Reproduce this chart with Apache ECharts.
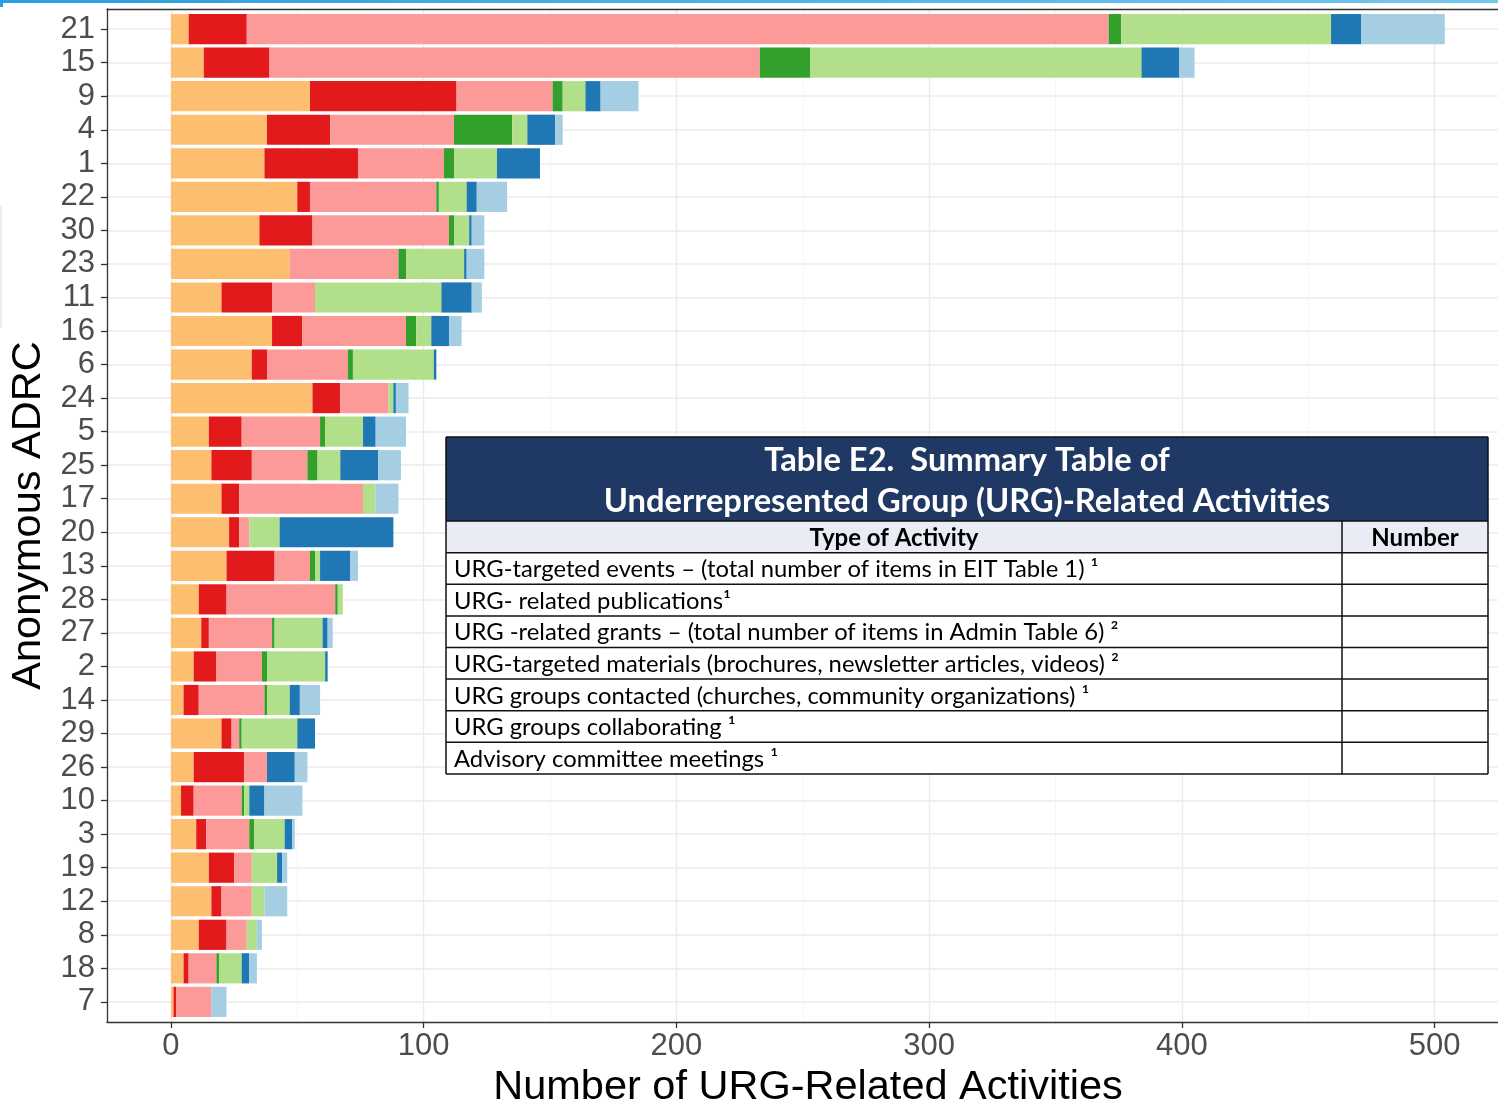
<!DOCTYPE html>
<html>
<head>
<meta charset="utf-8">
<script src="https://cdn.jsdelivr.net/npm/echarts@6/dist/echarts.min.js"></script>
<style>
html,body{margin:0;padding:0;background:#fff;overflow:hidden;width:1498px;height:1105px;}
#chart{width:1530px;height:1105px;}
</style>
</head>
<body>
<div id="chart"></div>
<script>
// ---- data ----
const categories = ['21','15','9','4','1','22','30','23','11','16','6','24','5','25','17','20','13','28','27','2','14','29','26','10','3','19','12','8','18','7'];
const activityTypes = [
  'URG-targeted events \u2013 (total number of items in EIT Table 1) \u00b9',
  'URG- related publications\u00b9',
  'URG -related grants \u2013 (total number of items in Admin Table 6) \u00b2',
  'URG-targeted materials (brochures, newsletter articles, videos) \u00b2',
  'URG groups contacted (churches, community organizations) \u00b9',
  'URG groups collaborating \u00b9',
  'Advisory committee meetings \u00b9'
];
const events        = [7,13,55,38,37,50,35,47,20,40,32,56,15,16,20,23,22,11,12,9,5,20,9,4,10,15,16,11,5,1];
const publications  = [23,26,58,25,37,5,21,0,20,12,6,11,13,16,7,4,19,11,3,9,6,4,20,5,4,10,4,11,2,1];
const grants        = [341,194,38,49,34,50,54,43,17,41,32,19,31,22,49,4,14,43,25,18,26,3,9,19,17,7,12,8,11,14];
const materials     = [5,20,4,23,4,1,2,3,0,4,2,0,2,4,0,0,2,1,1,2,1,1,0,1,2,0,0,0,1,0];
const contacted     = [83,131,9,6,17,11,6,23,50,6,32,2,15,9,5,12,2,2,19,23,9,22,0,2,12,10,5,4,9,0];
const collaborating = [12,15,6,11,17,4,1,1,12,7,1,1,5,15,0,45,12,0,2,1,4,7,11,6,3,2,0,0,3,0];
const advisory      = [33,6,15,3,0,12,5,7,4,5,0,5,12,9,9,0,3,0,2,0,8,0,5,15,1,2,9,2,3,6];
const majorTicks = [0,100,200,300,400,500];
const minorTicks = [50,150,250,350,450];
const xTitle = 'Number of URG-Related Activities';
const yTitle = 'Anonymous ADRC';
const tableTitle = ['Table E2.  Summary Table of', 'Underrepresented Group (URG)-Related Activities'];
const tableHeader = ['Type of Activity', 'Number'];

const seriesValues = [events, publications, grants, materials, contacted, collaborating, advisory];
const colors = ['#FDBF6F','#E31A1C','#FB9A99','#33A02C','#B2DF8A','#1F78B4','#A6CEE3'];

// ---- layout ----
const X_MIN = -25.3, X_MAX = 529.4;
const PLOT_L = 107, PLOT_T = 9, PLOT_W = 1402, PLOT_H = 1013;
const unit = PLOT_H / (categories.length + 0.2);
const idx = categories.map((c, i) => i);
const FONT = '"Liberation Sans", Arial, sans-serif';
const TFONT = 'Lato, "Open Sans", sans-serif';

const chart = echarts.init(document.getElementById('chart'), null, {renderer: 'canvas', width: 1530, height: 1105});

const series = seriesValues.map((vals, k) => ({
  name: activityTypes[k],
  type: 'bar',
  stack: 'total',
  xAxisIndex: 3,
  yAxisIndex: 1,
  barWidth: '90%',
  itemStyle: {color: colors[k]},
  emphasis: {disabled: true},
  data: vals
}));

// table graphics
const TL = 446, TR = 1488, TT = 437, HDR = 521, SUB = 552.7, ROWH = 31.6, DIV = 1342;
const TB = SUB + ROWH * activityTypes.length;
const g = [];
g.push({type:'rect', shape:{x:0,y:0,width:1530,height:3}, style:{fill:new echarts.graphic.LinearGradient(0,0,1,0,[{offset:0,color:'#2A9EDF'},{offset:1,color:'#74C8EE'}])}, z:100});
g.push({type:'rect', shape:{x:0,y:0,width:3,height:7}, style:{fill:'#2A9EDF'}, z:100});
g.push({type:'rect', shape:{x:0,y:205,width:2,height:123}, style:{fill:'#EEEEF2'}, z:100});
g.push({type:'rect', shape:{x:TL,y:TT,width:TR-TL,height:HDR-TT}, style:{fill:'#203864'}, z:100});
g.push({type:'rect', shape:{x:TL,y:HDR,width:TR-TL,height:SUB-HDR}, style:{fill:'#E9EBF5'}, z:100});
g.push({type:'rect', shape:{x:TL,y:SUB,width:TR-TL,height:TB-SUB}, style:{fill:'#FFFFFF'}, z:100});
const lineStyle = {stroke:'#111', lineWidth:1.5};
g.push({type:'line', shape:{x1:TL,y1:HDR,x2:TR,y2:HDR}, style:lineStyle, z:101});
for (let k = 0; k <= activityTypes.length; k++) {
  const y = SUB + ROWH * k;
  g.push({type:'line', shape:{x1:TL,y1:y,x2:TR,y2:y}, style:lineStyle, z:101});
}
g.push({type:'line', shape:{x1:TL,y1:TT,x2:TL,y2:TB}, style:lineStyle, z:101});
g.push({type:'line', shape:{x1:TR,y1:TT,x2:TR,y2:TB}, style:lineStyle, z:101});
g.push({type:'line', shape:{x1:TL,y1:TT,x2:TR,y2:TT}, style:lineStyle, z:101});
g.push({type:'line', shape:{x1:DIV,y1:HDR,x2:DIV,y2:TB}, style:lineStyle, z:101});
const cx = (TL + TR) / 2;
g.push({type:'text', style:{text:tableTitle[0], x:cx, y:460, align:'center', verticalAlign:'middle', fill:'#FFFFFF', font:'bold 32.7px ' + TFONT}, z:102});
g.push({type:'text', style:{text:tableTitle[1], x:cx, y:501, align:'center', verticalAlign:'middle', fill:'#FFFFFF', font:'bold 32.7px ' + TFONT}, z:102});
g.push({type:'text', style:{text:tableHeader[0], x:(TL+DIV)/2, y:(HDR+SUB)/2+1, align:'center', verticalAlign:'middle', fill:'#000', font:'bold 24px ' + TFONT}, z:102});
g.push({type:'text', style:{text:tableHeader[1], x:(DIV+TR)/2, y:(HDR+SUB)/2+1, align:'center', verticalAlign:'middle', fill:'#000', font:'bold 24px ' + TFONT}, z:102});
activityTypes.forEach((t, k) => {
  g.push({type:'text', style:{text:t, x:TL+8, y:SUB + ROWH*(k+0.5)+1, align:'left', verticalAlign:'middle', fill:'#000', font:'23.8px ' + TFONT}, z:102});
});

const option = {
  animation: false,
  backgroundColor: '#ffffff',
  grid: [
    {left: PLOT_L, top: PLOT_T, width: PLOT_W, height: PLOT_H, containLabel: false, outerBoundsMode: 'none'},
    {left: PLOT_L, top: PLOT_T + 0.1 * unit, width: PLOT_W, height: unit * categories.length, containLabel: false, outerBoundsMode: 'none'}
  ],
  xAxis: [
    {
      type: 'value', gridIndex: 0, min: X_MIN, max: X_MAX, position: 'bottom',
      axisLine: {show: true, onZero: false, lineStyle: {color: '#333', width: 1.3}},
      axisTick: {show: true, length: 6, customValues: majorTicks, lineStyle: {color: '#333', width: 1.3}},
      axisLabel: {show: true, customValues: majorTicks, fontSize: 31, color: '#4D4D4D', fontFamily: FONT, margin: 9},
      splitLine: {show: true, lineStyle: {color: '#EBEBEB', width: 1.4}},
      name: xTitle, nameLocation: 'middle', nameGap: 44,
      nameTextStyle: {fontSize: 41.5, color: '#000', fontFamily: FONT}
    },
    {
      type: 'value', gridIndex: 0, min: X_MIN, max: X_MAX, position: 'bottom',
      axisLine: {show: false, onZero: false}, axisTick: {show: false, customValues: minorTicks},
      axisLabel: {show: false, customValues: minorTicks},
      splitLine: {show: true, lineStyle: {color: '#F3F3F3', width: 0.9}}
    },
    {
      type: 'value', gridIndex: 0, min: X_MIN, max: X_MAX, position: 'top',
      axisLine: {show: true, onZero: false, lineStyle: {color: '#333', width: 1.3}},
      axisTick: {show: false}, axisLabel: {show: false}, splitLine: {show: false}
    },
    {
      type: 'value', gridIndex: 1, min: X_MIN, max: X_MAX, show: false,
      axisLine: {onZero: false},
      splitLine: {show: false}
    }
  ],
  yAxis: [
    {
      type: 'value', gridIndex: 0, inverse: true, min: -0.6, max: categories.length - 1 + 0.6,
      axisLine: {show: true, onZero: false, lineStyle: {color: '#333', width: 1.3}},
      axisTick: {show: true, length: 6, customValues: idx, lineStyle: {color: '#333', width: 1.3}},
      axisLabel: {show: true, customValues: idx, formatter: v => categories[Math.round(v)], fontSize: 31, color: '#4D4D4D', fontFamily: FONT, margin: 12},
      splitLine: {show: true, lineStyle: {color: '#EBEBEB', width: 1.5}},
      name: yTitle, nameLocation: 'middle', nameGap: 56,
      nameTextStyle: {fontSize: 41.5, color: '#000', fontFamily: FONT}
    },
    {
      type: 'category', gridIndex: 1, inverse: true, data: categories, show: false,
      axisLine: {onZero: false},
      splitLine: {show: false}
    }
  ],
  series: series,
  graphic: {elements: g}
};
chart.setOption(option);
</script>
</body>
</html>
